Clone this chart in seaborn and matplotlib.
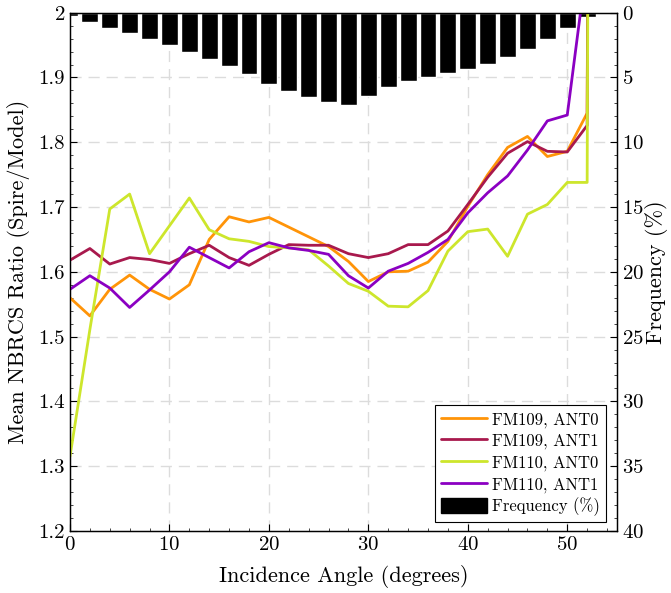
import numpy as np
import pandas as pd
import seaborn as sns
import matplotlib.pyplot as plt
from matplotlib.patches import Patch
from matplotlib.lines import Line2D
from matplotlib.ticker import MultipleLocator

# Incidence angle bins (degrees); last point sits just past 52 and runs off the top
angles = [0, 2, 4, 6, 8, 10, 12, 14, 16, 18, 20, 22, 24, 26, 28, 30,
          32, 34, 36, 38, 40, 42, 44, 46, 48, 50, 52, 52.2]

fm109_ant0 = [1.560, 1.532, 1.573, 1.595, 1.573, 1.558, 1.580, 1.650, 1.685, 1.677,
              1.684, 1.669, 1.654, 1.639, 1.616, 1.585, 1.600, 1.601, 1.615, 1.647,
              1.701, 1.750, 1.792, 1.809, 1.778, 1.786, 1.845, 2.600]
fm109_ant1 = [1.618, 1.636, 1.612, 1.622, 1.619, 1.613, 1.628, 1.641, 1.622, 1.610,
              1.627, 1.642, 1.641, 1.641, 1.628, 1.622, 1.628, 1.642, 1.642, 1.663,
              1.704, 1.746, 1.783, 1.801, 1.786, 1.785, 1.826, 2.600]
fm110_ant0 = [1.315, 1.511, 1.697, 1.720, 1.628, 1.671, 1.714, 1.665, 1.651, 1.647,
              1.639, 1.637, 1.634, 1.609, 1.582, 1.570, 1.547, 1.546, 1.571, 1.632,
              1.662, 1.666, 1.624, 1.689, 1.704, 1.738, 1.738, 2.600]
fm110_ant1 = [1.573, 1.594, 1.575, 1.545, 1.572, 1.600, 1.638, 1.622, 1.606, 1.631,
              1.645, 1.637, 1.633, 1.627, 1.594, 1.575, 1.601, 1.613, 1.630, 1.650,
              1.691, 1.722, 1.748, 1.788, 1.833, 1.842, 2.080, 2.600]

series_names = ['FM109, ANT0', 'FM109, ANT1', 'FM110, ANT0', 'FM110, ANT1']
series_colors = ['#FF9408', '#A8194D', '#CDE62C', '#8B00C2']

# Frequency histogram (% of samples per 2-degree bin)
freq_angles = [0, 2, 4, 6, 8, 10, 12, 14, 16, 18, 20, 22, 24, 26,
               28, 30, 32, 34, 36, 38, 40, 42, 44, 46, 48, 50, 52]
freq_pct = [0.23, 0.69, 1.15, 1.59, 2.05, 2.51, 3.03, 3.57, 4.13, 4.70, 5.49, 6.08, 6.49, 6.93,
            7.09, 6.42, 5.72, 5.31, 5.00, 4.67, 4.34, 3.93, 3.41, 2.80, 2.00, 1.15, 0.33]

# Long-form table for seaborn
df = pd.DataFrame({
    'angle': angles * 4,
    'ratio': fm109_ant0 + fm109_ant1 + fm110_ant0 + fm110_ant1,
    'series': np.repeat(series_names, len(angles)),
})

sns.set_style("ticks")
plt.rcParams['font.family'] = ['cmr10', 'DejaVu Serif']
plt.rcParams['axes.formatter.use_mathtext'] = True
plt.rcParams['xtick.direction'] = 'in'
plt.rcParams['ytick.direction'] = 'in'
plt.rcParams['text.color'] = 'black'
plt.rcParams['axes.labelcolor'] = 'black'

fig = plt.figure(figsize=(6.71, 5.93), dpi=100)
ax = fig.add_axes([0.1043, 0.1046, 0.8152, 0.874])
ax2 = ax.twinx()

# Bars on the twin axis (frequency, inverted)
ax2.bar(freq_angles, freq_pct, width=1.7, color='black', zorder=1)
ax2.set_ylim(40, 0)
ax2.yaxis.set_major_locator(MultipleLocator(5))
ax2.yaxis.set_minor_locator(MultipleLocator(1))
ax2.set_ylabel('Frequency (%)', fontsize=16, labelpad=1)

# Lines on the main axis, drawn above the bars
ax.set_zorder(ax2.get_zorder() + 1)
ax.patch.set_visible(False)
palette = dict(zip(series_names, series_colors))
sns.lineplot(data=df, x='angle', y='ratio', hue='series', palette=palette,
             linewidth=2, ax=ax, legend=False, sort=False)

ax.set_xlim(0, 55)
ax.set_ylim(1.2, 2.0)
ax.xaxis.set_major_locator(MultipleLocator(10))
ax.xaxis.set_minor_locator(MultipleLocator(2))
ax.yaxis.set_major_locator(MultipleLocator(0.1))
ax.yaxis.set_minor_locator(MultipleLocator(0.02))
ax.set_yticks([1.2, 1.3, 1.4, 1.5, 1.6, 1.7, 1.8, 1.9, 2.0])
ax.set_yticklabels(['1.2', '1.3', '1.4', '1.5', '1.6', '1.7', '1.8', '1.9', '2'])
ax.set_xlabel('Incidence Angle (degrees)', fontsize=16, labelpad=8)
ax.set_ylabel('Mean NBRCS Ratio (Spire/Model)', fontsize=16, labelpad=6)

# Dashed grid behind the bars
for gx in [10, 20, 30, 40, 50]:
    ax2.axvline(gx, color='#dcdcdc', linestyle=(0, (8, 5)), linewidth=1, zorder=0)
for gy in [1.3, 1.4, 1.5, 1.6, 1.7, 1.8, 1.9]:
    ax2.axhline((2.0 - gy) / 0.8 * 40, color='#dcdcdc', linestyle=(0, (8, 5)), linewidth=1, zorder=0)

for a in (ax, ax2):
    a.tick_params(which='major', length=5, width=0.8, labelsize=15, colors='black')
    a.tick_params(which='minor', length=2.5, width=0.6)
    for s in a.spines.values():
        s.set_visible(True)
        s.set_color('black')
        s.set_linewidth(0.9)
ax.tick_params(axis='y', which='both', right=False)
ax.tick_params(axis='x', which='both', top=False)
ax2.tick_params(axis='y', which='both', left=False)

handles = [Line2D([0], [0], color=c, linewidth=2) for c in series_colors]
handles.append(Patch(facecolor='black', edgecolor='black'))
labels = series_names + ['Frequency (%)']
leg = ax.legend(handles, labels, loc='lower right', bbox_to_anchor=(0.98, 0.017),
                fontsize=12, frameon=True, fancybox=False, framealpha=1,
                edgecolor='black', handlelength=2.8, handleheight=1.0, handletextpad=0.3,
                labelspacing=0.3, borderpad=0.35, borderaxespad=0)
leg.get_frame().set_linewidth(0.8)

plt.savefig('out.png', dpi=100)
